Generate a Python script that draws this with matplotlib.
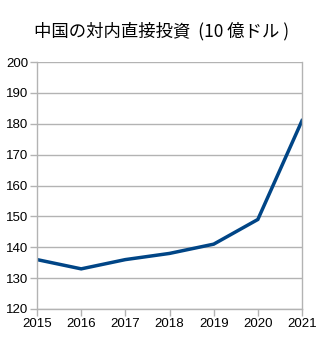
import matplotlib
matplotlib.use("Agg")
import matplotlib.pyplot as plt

years = [2015, 2016, 2017, 2018, 2019, 2020, 2021]
fdi = [136, 133, 136, 138, 141, 149, 181]
yticks = [120, 130, 140, 150, 160, 170, 180, 190, 200]
title = "中国の対内直接投資  (10 億ドル )"

grid_color = "#b3b3b3"
line_color = "#004586"

fig = plt.figure(figsize=(3.23, 3.40), dpi=100)
ax = fig.add_axes([0.1146, 0.0912, 0.8204, 0.7264])

ax.plot(years, fdi, color=line_color, lw=2.5, solid_joinstyle="miter")

ax.set_xlim(years[0], years[-1])
ax.set_ylim(yticks[0], yticks[-1])
ax.set_xticks(years)
ax.set_yticks(yticks)
ax.set_xticklabels([str(y) for y in years], family="Liberation Sans", fontsize=9.5)
ax.set_yticklabels([str(v) for v in yticks], family="Liberation Sans", fontsize=9.5)

ax.yaxis.grid(True, color=grid_color, lw=1)
ax.set_axisbelow(True)
for side in ["left", "right", "bottom"]:
    ax.spines[side].set_color(grid_color)
    ax.spines[side].set_linewidth(1)
ax.spines["top"].set_visible(False)
ax.tick_params(axis="both", colors=grid_color, labelcolor="black", length=5, width=1, pad=1.5)

fig.text(0.5, 1 - 31 / 340, title, ha="center", va="center",
         family=["Noto Sans CJK JP", "DejaVu Sans"], fontsize=12.5)

fig.savefig("out.png", dpi=100)
